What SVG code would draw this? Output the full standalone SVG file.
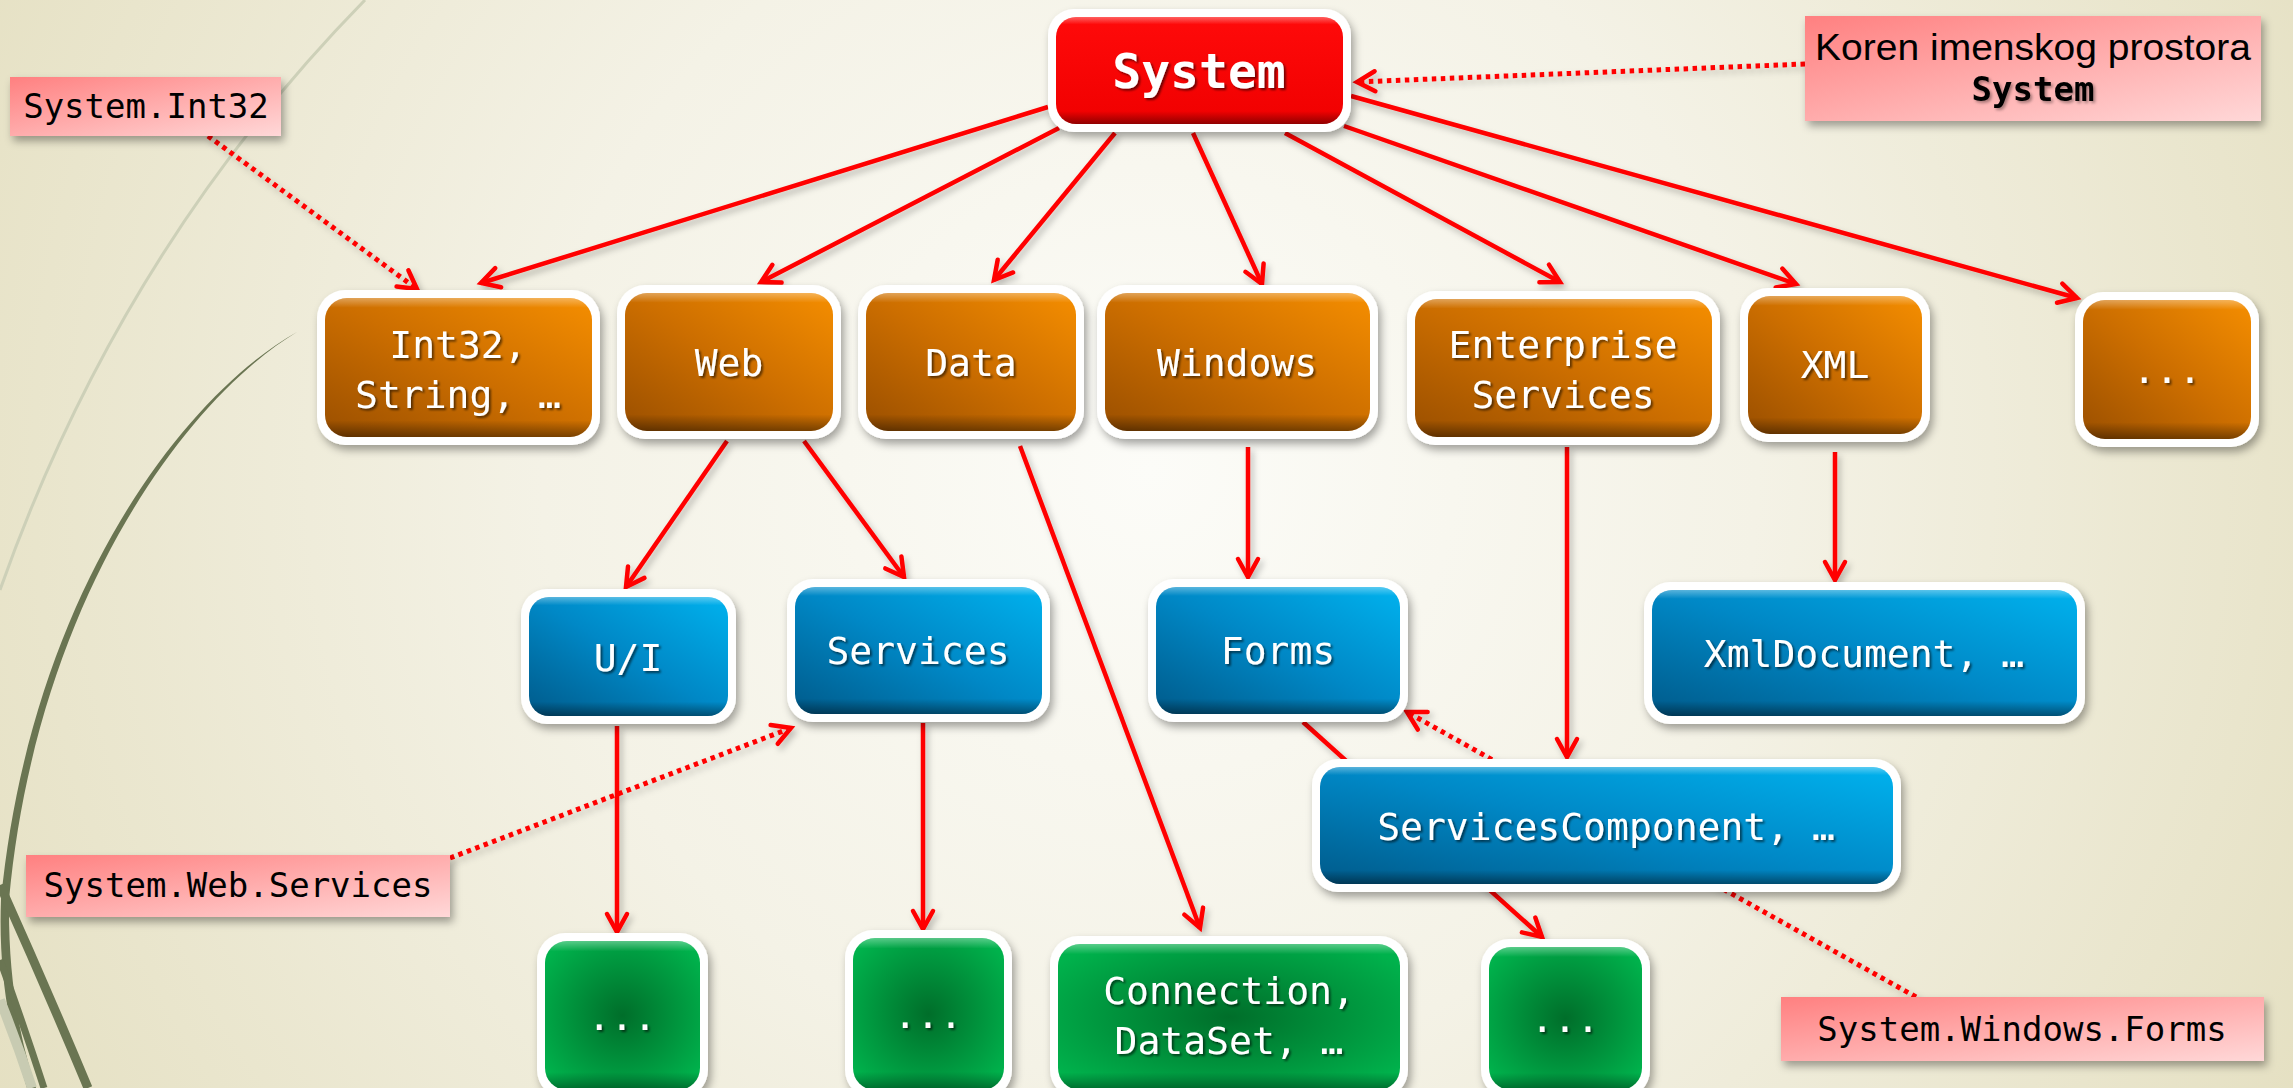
<svg xmlns="http://www.w3.org/2000/svg" width="2293" height="1088" viewBox="0 0 2293 1088">
<defs>
<radialGradient id="bg" cx="1150" cy="470" r="1350" gradientUnits="userSpaceOnUse">
<stop offset="0" stop-color="#fcfcf8"/>
<stop offset="0.45" stop-color="#f4f2e6"/>
<stop offset="1" stop-color="#e4dfc0"/>
</radialGradient>
<linearGradient id="gRed" x1="0" y1="0" x2="0" y2="1">
<stop offset="0" stop-color="#ff0a0a"/>
<stop offset="1" stop-color="#f00000"/>
</linearGradient>
<linearGradient id="gOrange" x1="0" y1="1" x2="1" y2="0">
<stop offset="0" stop-color="#9a4f00"/>
<stop offset="0.5" stop-color="#cc6e00"/>
<stop offset="1" stop-color="#f58e00"/>
</linearGradient>
<linearGradient id="gBlue" x1="0" y1="1" x2="1" y2="0">
<stop offset="0" stop-color="#005a8a"/>
<stop offset="0.5" stop-color="#0088c6"/>
<stop offset="1" stop-color="#00b2ee"/>
</linearGradient>
<radialGradient id="gGreen" cx="0.5" cy="0.5" r="0.62">
<stop offset="0" stop-color="#006e2a"/>
<stop offset="1" stop-color="#00b24c"/>
</radialGradient>
<linearGradient id="gBevel" x1="0" y1="0" x2="0" y2="1">
<stop offset="0" stop-color="#ffffff" stop-opacity="0.35"/>
<stop offset="0.07" stop-color="#ffffff" stop-opacity="0"/>
<stop offset="0.88" stop-color="#000000" stop-opacity="0"/>
<stop offset="1" stop-color="#000000" stop-opacity="0.4"/>
</linearGradient>
<linearGradient id="gLabel" x1="0" y1="0" x2="1" y2="1">
<stop offset="0" stop-color="#ff8080"/>
<stop offset="1" stop-color="#ffd8d8"/>
</linearGradient>
<filter id="nsh" x="-20%" y="-20%" width="140%" height="150%">
<feDropShadow dx="3" dy="5" stdDeviation="4" flood-color="#000" flood-opacity="0.35"/>
</filter>
<filter id="csh" filterUnits="userSpaceOnUse" x="0" y="0" width="2293" height="1088">
<feDropShadow dx="3" dy="4" stdDeviation="3" flood-color="#000" flood-opacity="0.25"/>
</filter>
<filter id="tsh" x="-10%" y="-30%" width="130%" height="170%">
<feDropShadow dx="2" dy="2" stdDeviation="1.2" flood-color="#000" flood-opacity="0.55"/>
</filter>
<filter id="tsh2" x="-10%" y="-30%" width="130%" height="170%">
<feDropShadow dx="2" dy="2" stdDeviation="1.5" flood-color="#000" flood-opacity="0.35"/>
</filter>
<marker id="ah" markerUnits="userSpaceOnUse" viewBox="-26 -16 30 32" markerWidth="30" markerHeight="32" refX="0" refY="0" orient="auto" overflow="visible">
<path d="M-18,-10 L0,0 L-18,10" fill="none" stroke="#ff0000" stroke-width="4.5" stroke-linecap="round"/>
</marker>
<style>
.border{fill:#ffffff;filter:url(#nsh);}
.red{fill:url(#gRed);}
.orange{fill:url(#gOrange);}
.blue{fill:url(#gBlue);}
.green{fill:url(#gGreen);}
.bevel{fill:url(#gBevel);}
.nt{font-family:"DejaVu Sans Mono","Liberation Mono",monospace;font-size:38px;fill:#ffffff;text-anchor:middle;filter:url(#tsh);}
.st{font-family:"DejaVu Sans Mono","Liberation Mono",monospace;font-size:48px;font-weight:bold;fill:#ffffff;text-anchor:middle;filter:url(#tsh);}
.lbl{fill:url(#gLabel);filter:url(#nsh);}
.lt{font-family:"DejaVu Sans Mono","Liberation Mono",monospace;font-size:34px;fill:#000000;text-anchor:middle;}
.solid{fill:none;stroke:#ff0000;stroke-width:4.5;marker-end:url(#ah);}
.dota{fill:none;stroke:#ff0000;stroke-width:5;stroke-dasharray:4.5 4.5;marker-end:url(#ah);}
</style>
</defs>

<rect x="0" y="0" width="2293" height="1088" fill="url(#bg)"/>

<g id="decor">
<path d="M365,0 Q120,250 0,590" fill="none" stroke="#cdd0b8" stroke-width="3"/>
<path d="M297,332 C180,398 30,600 1,900 C-2,980 12,1040 27,1088 L36,1088 C20,1040 8,980 9,900 C36,604 184,400 297,332 Z" fill="#6a7552"/>
<path d="M0,1000 Q18,1045 32,1088" fill="none" stroke="#c8cbb2" stroke-width="10"/>
<path d="M0,885 Q45,985 88,1088" fill="none" stroke="#6a7552" stroke-width="9"/>
<path d="M0,960 Q22,1020 44,1088" fill="none" stroke="#6a7552" stroke-width="7"/>
</g>

<g id="connectors" filter="url(#csh)">
<path class="solid" d="M1048,107 L481,283"/>
<path class="solid" d="M1059,128 L761,282"/>
<path class="solid" d="M1115,133 L994,280"/>
<path class="solid" d="M1193,133 L1262,284"/>
<path class="solid" d="M1285,133 L1560,282"/>
<path class="solid" d="M1344,126 L1796,284"/>
<path class="solid" d="M1351,96 L2077,298"/>
<path class="solid" d="M727,441 L626,587"/>
<path class="solid" d="M804,441 L904,577"/>
<path class="solid" d="M1020,446 L1200,928"/>
<path class="solid" d="M1248,447 L1248,577"/>
<path class="solid" d="M1567,447 L1567,757"/>
<path class="solid" d="M1835,452 L1835,580"/>
<path class="solid" d="M617,726 L617,932"/>
<path class="solid" d="M923,723 L923,929"/>
<path class="solid" d="M1303,722 L1542,937"/>
<path class="dota" d="M208,136 L417,289"/>
<path class="dota" d="M1805,64 L1357,82"/>
<path class="dota" d="M450,858 L791,728"/>
<path class="dota" d="M1916,997 L1407,712"/>
</g>

<g id="n-system">
<rect class="border" x="1048" y="9" width="303" height="123" rx="26"/>
<rect class="red" x="1056" y="17" width="287" height="107" rx="20"/>
<rect class="bevel" x="1056" y="17" width="287" height="107" rx="20"/>
<text class="st" x="1199" y="88">System</text>
</g>

<g id="n-int32">
<rect class="border" x="317" y="290" width="283" height="155" rx="28"/>
<rect class="orange" x="325" y="298" width="267" height="139" rx="22"/>
<rect class="bevel" x="325" y="298" width="267" height="139" rx="22"/>
<text class="nt" x="458" y="358">Int32,</text>
<text class="nt" x="458" y="408">String, …</text>
</g>

<g id="n-web">
<rect class="border" x="617" y="285" width="224" height="154" rx="28"/>
<rect class="orange" x="625" y="293" width="208" height="138" rx="22"/>
<rect class="bevel" x="625" y="293" width="208" height="138" rx="22"/>
<text class="nt" x="729" y="376">Web</text>
</g>

<g id="n-data">
<rect class="border" x="858" y="285" width="226" height="154" rx="28"/>
<rect class="orange" x="866" y="293" width="210" height="138" rx="22"/>
<rect class="bevel" x="866" y="293" width="210" height="138" rx="22"/>
<text class="nt" x="971" y="376">Data</text>
</g>

<g id="n-windows">
<rect class="border" x="1097" y="285" width="281" height="154" rx="28"/>
<rect class="orange" x="1105" y="293" width="265" height="138" rx="22"/>
<rect class="bevel" x="1105" y="293" width="265" height="138" rx="22"/>
<text class="nt" x="1237" y="376">Windows</text>
</g>

<g id="n-enterprise">
<rect class="border" x="1407" y="291" width="313" height="154" rx="28"/>
<rect class="orange" x="1415" y="299" width="297" height="138" rx="22"/>
<rect class="bevel" x="1415" y="299" width="297" height="138" rx="22"/>
<text class="nt" x="1563" y="358">Enterprise</text>
<text class="nt" x="1563" y="408">Services</text>
</g>

<g id="n-xml">
<rect class="border" x="1740" y="288" width="190" height="154" rx="28"/>
<rect class="orange" x="1748" y="296" width="174" height="138" rx="22"/>
<rect class="bevel" x="1748" y="296" width="174" height="138" rx="22"/>
<text class="nt" x="1835" y="378">XML</text>
</g>

<g id="n-more1">
<rect class="border" x="2075" y="292" width="184" height="155" rx="28"/>
<rect class="orange" x="2083" y="300" width="168" height="139" rx="22"/>
<rect class="bevel" x="2083" y="300" width="168" height="139" rx="22"/>
<text class="nt" x="2167" y="383">...</text>
</g>

<g id="n-ui">
<rect class="border" x="521" y="589" width="215" height="135" rx="26"/>
<rect class="blue" x="529" y="597" width="199" height="119" rx="20"/>
<rect class="bevel" x="529" y="597" width="199" height="119" rx="20"/>
<text class="nt" x="628" y="671">U/I</text>
</g>

<g id="n-services">
<rect class="border" x="787" y="579" width="263" height="143" rx="26"/>
<rect class="blue" x="795" y="587" width="247" height="127" rx="20"/>
<rect class="bevel" x="795" y="587" width="247" height="127" rx="20"/>
<text class="nt" x="918" y="664">Services</text>
</g>

<g id="n-forms">
<rect class="border" x="1148" y="579" width="260" height="143" rx="26"/>
<rect class="blue" x="1156" y="587" width="244" height="127" rx="20"/>
<rect class="bevel" x="1156" y="587" width="244" height="127" rx="20"/>
<text class="nt" x="1278" y="664">Forms</text>
</g>

<g id="n-xmldocument">
<rect class="border" x="1644" y="582" width="441" height="142" rx="26"/>
<rect class="blue" x="1652" y="590" width="425" height="126" rx="20"/>
<rect class="bevel" x="1652" y="590" width="425" height="126" rx="20"/>
<text class="nt" x="1864" y="667">XmlDocument, …</text>
</g>

<g id="n-servicescomponent">
<rect class="border" x="1312" y="759" width="589" height="133" rx="26"/>
<rect class="blue" x="1320" y="767" width="573" height="117" rx="20"/>
<rect class="bevel" x="1320" y="767" width="573" height="117" rx="20"/>
<text class="nt" x="1606" y="840">ServicesComponent, …</text>
</g>

<g id="n-more2">
<rect class="border" x="537" y="933" width="171" height="165" rx="28"/>
<rect class="green" x="545" y="941" width="155" height="149" rx="22"/>
<rect class="bevel" x="545" y="941" width="155" height="149" rx="22"/>
<text class="nt" x="622" y="1030">...</text>
</g>

<g id="n-more3">
<rect class="border" x="845" y="930" width="167" height="168" rx="28"/>
<rect class="green" x="853" y="938" width="151" height="152" rx="22"/>
<rect class="bevel" x="853" y="938" width="151" height="152" rx="22"/>
<text class="nt" x="928" y="1028">...</text>
</g>

<g id="n-connection">
<rect class="border" x="1050" y="936" width="358" height="162" rx="28"/>
<rect class="green" x="1058" y="944" width="342" height="146" rx="22"/>
<rect class="bevel" x="1058" y="944" width="342" height="146" rx="22"/>
<text class="nt" x="1229" y="1004">Connection,</text>
<text class="nt" x="1229" y="1054">DataSet, …</text>
</g>

<g id="n-more4">
<rect class="border" x="1481" y="939" width="169" height="159" rx="28"/>
<rect class="green" x="1489" y="947" width="153" height="143" rx="22"/>
<rect class="bevel" x="1489" y="947" width="153" height="143" rx="22"/>
<text class="nt" x="1565" y="1032">...</text>
</g>

<g id="l-int32">
<rect class="lbl" x="10" y="77" width="271" height="59"/>
<text class="lt" x="146" y="118">System.Int32</text>
</g>

<g id="l-koren">
<rect class="lbl" x="1805" y="16" width="456" height="105"/>
<text x="2033" y="60" font-family="Liberation Sans, Arial, sans-serif" font-size="36" fill="#000" text-anchor="middle" textLength="436" lengthAdjust="spacingAndGlyphs">Koren imenskog prostora</text>
<text x="2033" y="101" font-family="DejaVu Sans Mono, Liberation Mono, monospace" font-size="34" font-weight="bold" fill="#000" text-anchor="middle" filter="url(#tsh2)">System</text>
</g>

<g id="l-webservices">
<rect class="lbl" x="26" y="855" width="424" height="62"/>
<text class="lt" x="238" y="897">System.Web.Services</text>
</g>

<g id="l-windowsforms">
<rect class="lbl" x="1781" y="997" width="483" height="64"/>
<text class="lt" x="2022" y="1041">System.Windows.Forms</text>
</g>
</svg>
